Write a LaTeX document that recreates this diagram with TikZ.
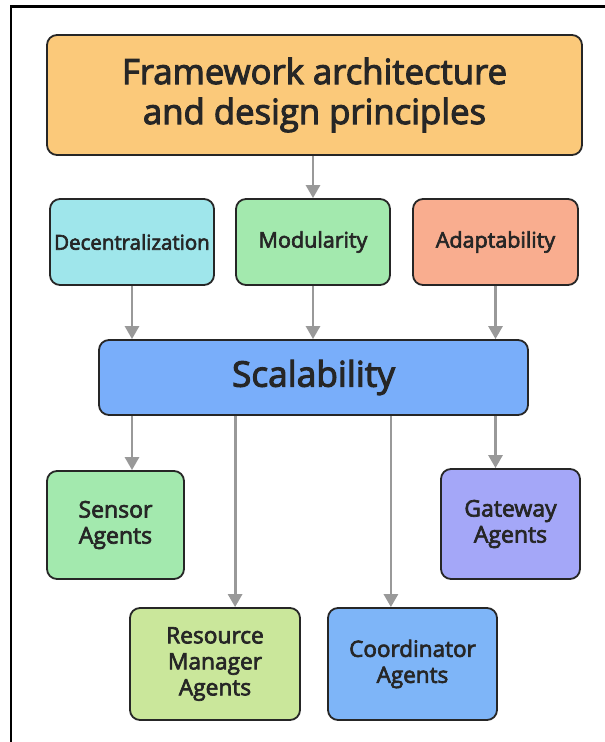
\documentclass[tikz,border=0pt]{standalone}
\usepackage{fontspec}
\setmainfont{Open Sans}[FakeBold=3]
\usetikzlibrary{arrows.meta}
\definecolor{naranja}{HTML}{FBC97A}
\definecolor{cian}{HTML}{9FE6EB}
\definecolor{verde}{HTML}{A3E9AE}
\definecolor{salmon}{HTML}{F9AD8F}
\definecolor{azul}{HTML}{79AEFA}
\definecolor{lila}{HTML}{A4A7F8}
\definecolor{lima}{HTML}{CAE79B}
\definecolor{celeste}{HTML}{7EB5F8}
\definecolor{tinta}{HTML}{262626}
\tikzset{
  caja/.style={draw=tinta, line width=1.8pt, rounded corners=10pt, text=tinta,
    align=center, inner sep=0pt},
  flecha/.style={draw=black!40, line width=2.8pt, -{Triangle[length=13pt,width=14pt]}}
}
\begin{document}
\begin{tikzpicture}[x=1pt,y=-1pt]
\useasboundingbox (0,0) rectangle (605,742);
\draw[line width=2.4pt] (11,742) -- (11,6.5) -- (605,6.5);
\node[caja, fill=naranja, minimum width=535pt, minimum height=120pt,
  font=\fontsize{34.7}{40}\selectfont] (marco) at (314.5,95) {Framework architecture\\and design principles};
\node[caja, fill=cian, minimum width=164pt, minimum height=86pt,
  font=\fontsize{20.5}{22}\selectfont] (descentral) at (132,242) {Decentralization};
\node[caja, fill=verde, minimum width=154pt, minimum height=86pt,
  font=\fontsize{21.5}{22}\selectfont] (modular) at (313,242) {Modularity};
\node[caja, fill=salmon, minimum width=165pt, minimum height=86pt,
  font=\fontsize{21.5}{22}\selectfont] (adapt) at (495.5,242) {Adaptability};
\node[caja, fill=azul, minimum width=429pt, minimum height=75pt,
  font=\fontsize{35.3}{36}\selectfont] (escala) at (313.5,377.5) {Scalability};
\node[caja, fill=verde, minimum width=137pt, minimum height=108pt,
  font=\fontsize{23}{26}\selectfont] (sensor) at (115.5,525) {Sensor\\Agents};
\node[caja, fill=lila, minimum width=139pt, minimum height=110pt,
  font=\fontsize{23}{26}\selectfont] (pasarela) at (510.5,524) {Gateway\\Agents};
\node[caja, fill=lima, minimum width=170pt, minimum height=112pt,
  font=\fontsize{22.7}{26}\selectfont] (recurso) at (215,664) {Resource\\Manager\\Agents};
\node[caja, fill=celeste, minimum width=169pt, minimum height=112pt,
  font=\fontsize{22.5}{26}\selectfont] (coord) at (412.5,664) {Coordinator\\Agents};
\draw[flecha] (marco.south -| modular) -- (modular.north);
\draw[flecha] (descentral.south) -- (descentral.south |- escala.north);
\draw[flecha] (modular.south) -- (modular.south |- escala.north);
\draw[flecha] (adapt.south) -- (adapt.south |- escala.north);
\draw[flecha] (escala.south -| descentral.south) -- (sensor.north -| descentral.south);
\draw[flecha] (escala.south -| modular.west) -- (recurso.north -| modular.west);
\draw[flecha] (escala.south -| modular.east) -- (coord.north -| modular.east);
\draw[flecha] (escala.south -| adapt.south) -- (pasarela.north -| adapt.south);
\end{tikzpicture}
\end{document}
